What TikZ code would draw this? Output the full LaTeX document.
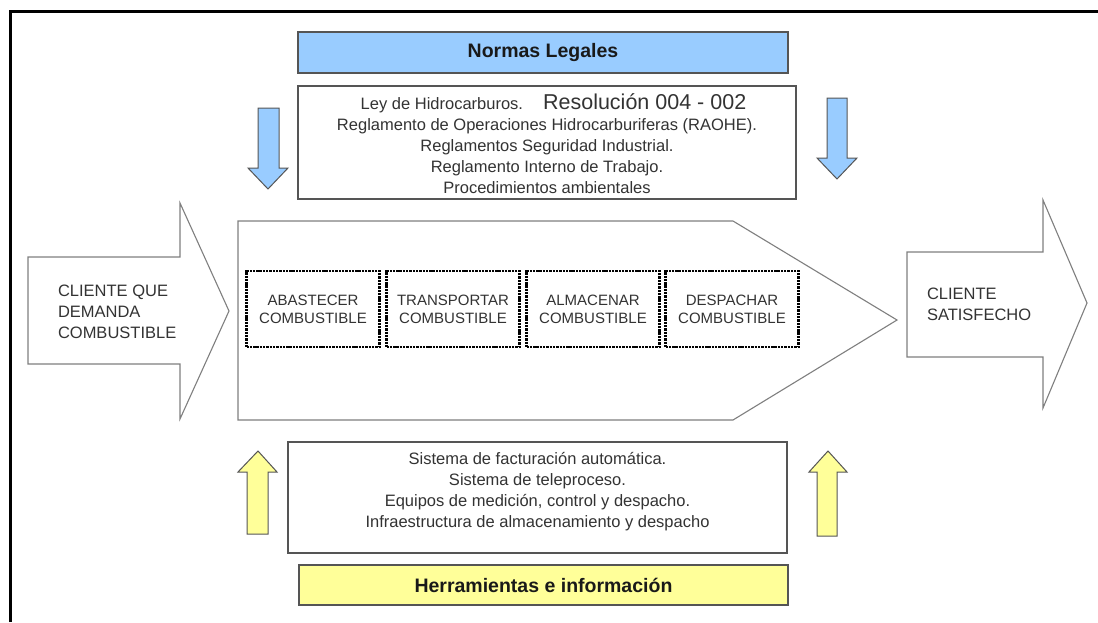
\documentclass[tikz,border=0pt]{standalone}
\usepackage{fontspec}
\setmainfont{Liberation Sans}
\definecolor{txt}{HTML}{333333}
\definecolor{blueF}{HTML}{99CCFF}
\definecolor{yelF}{HTML}{FFFF99}
\definecolor{edge}{HTML}{7F7F7F}
\definecolor{boxedge}{HTML}{555555}
\begin{document}
\begin{tikzpicture}[x=1pt,y=-1pt,
  every node/.style={inner sep=0pt, outer sep=0pt, text=txt},
  body/.style={font=\fontsize{16.5}{21}\selectfont, align=center},
  header/.style={draw=boxedge, line width=1.2pt, font=\bfseries\fontsize{19.5}{23}\selectfont, text=black!90},
  listbox/.style={draw=boxedge, line width=1.2pt, fill=white},
  stagebox/.style={draw=black, line width=2.2pt, dash pattern=on 2.4pt off 0.9pt, minimum width=133pt, minimum height=76pt, font=\fontsize{15}{18}\selectfont, align=center},
  bigarrow/.style={draw=edge, line width=1.1pt, fill=white},
  bluearrow/.style={draw=boxedge, line width=1pt, fill=blueF},
  yelarrow/.style={draw=boxedge, line width=1pt, fill=yelF},
  sidelabel/.style={font=\fontsize{16.5}{21}\selectfont, align=left, anchor=west},
]
\useasboundingbox (0,0) rectangle (1098,622);
% frame
\draw[line width=3pt, black] (10,622) -- (10,11.5) -- (1098,11.5);

% top header and list
\node[header, fill=blueF, minimum width=490pt, minimum height=41pt] (normas) at (543,52.5) {Normas Legales};
\node[listbox, minimum width=498pt, minimum height=113pt] (leyes) at (547,142.5) {};
\node[body] (leyestxt) at (547,143.5) {\hspace*{13pt}Ley de Hidrocarburos.\hspace{20pt}{\fontsize{21.5}{21}\selectfont Resolución 004 - 002}\\
Reglamento de Operaciones Hidrocarburiferas (RAOHE).\\
Reglamentos Seguridad Industrial.\\
Reglamento Interno de Trabajo.\\
Procedimientos ambientales};

% blue down arrows
\draw[bluearrow] (258,108) -- (279,108) -- (279,168) -- (288,168) -- (268,189) -- (248,168) -- (258,168) -- cycle;
\draw[bluearrow] (827,98) -- (847,98) -- (847,158) -- (857,158) -- (837,179) -- (817,158) -- (827,158) -- cycle;

% left big arrow
\draw[bigarrow] (28,257) -- (180,257) -- (180,203) -- (229,311) -- (180,419) -- (180,364) -- (28,364) -- cycle;
\node[sidelabel] (cliente) at (58,312) {CLIENTE QUE\\DEMANDA\\COMBUSTIBLE};

% central pentagon
\draw[bigarrow] (238,221) -- (733,221) -- (897,320) -- (733,420) -- (238,420) -- cycle;
\node[stagebox] (abastecer) at (313,309) {ABASTECER\\COMBUSTIBLE};
\node[stagebox] (transportar) at (453,309) {TRANSPORTAR\\COMBUSTIBLE};
\node[stagebox] (almacenar) at (593,309) {ALMACENAR\\COMBUSTIBLE};
\node[stagebox] (despachar) at (732,309) {DESPACHAR\\COMBUSTIBLE};

% right big arrow
\draw[bigarrow] (907,252) -- (1043,252) -- (1043,200) -- (1087,303) -- (1043,408) -- (1043,357) -- (907,357) -- cycle;
\node[sidelabel] (satisfecho) at (927,304) {CLIENTE\\SATISFECHO};

% bottom list and header
\node[listbox, minimum width=499pt, minimum height=111pt] (herr) at (537.5,497.5) {};
\node[body] (herrtxt) at (537.5,492) {Sistema de facturación automática.\\
Sistema de teleproceso.\\
Equipos de medición, control y despacho.\\
Infraestructura de almacenamiento y despacho};
\node[header, fill=yelF, minimum width=489pt, minimum height=40pt] (herramientas) at (543.5,585) {Herramientas e información};

% yellow up arrows
\draw[yelarrow] (247,534) -- (268,534) -- (268,472) -- (277,472) -- (258,451) -- (238,472) -- (247,472) -- cycle;
\draw[yelarrow] (817,536) -- (837,536) -- (837,472) -- (847,472) -- (828,451) -- (809,472) -- (817,472) -- cycle;
\end{tikzpicture}
\end{document}
